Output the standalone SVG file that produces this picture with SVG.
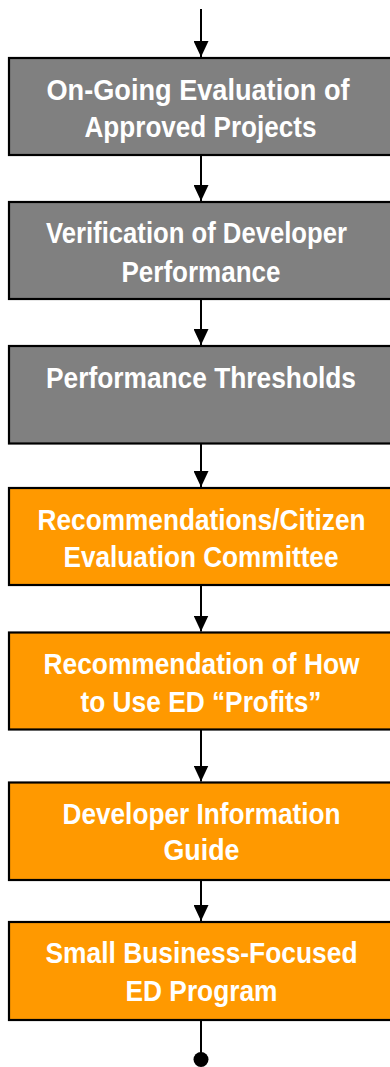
<svg xmlns="http://www.w3.org/2000/svg" width="390" height="1067" viewBox="0 0 390 1067">
<defs>
<style>
.box{stroke:#000;stroke-width:2.2}
.gray{fill:#808080}
.orange{fill:#FF9900}
.t{font-family:"Liberation Sans",Arial,sans-serif;font-weight:bold;font-size:29px;fill:#fff;text-anchor:middle}
.conn{stroke:#000;stroke-width:2;fill:none}
</style>
<marker id="ah" viewBox="0 0 16 15" refX="16" refY="7.5" markerWidth="16" markerHeight="15" markerUnits="userSpaceOnUse" orient="auto">
<path d="M0,0 L16,7.5 L0,15 Z" fill="#000"/>
</marker>
</defs>
<rect width="390" height="1067" fill="#fff"/>
<g id="connectors">
<line class="conn" x1="201" y1="9" x2="201" y2="57" marker-end="url(#ah)"/>
<line class="conn" x1="201" y1="155" x2="201" y2="201" marker-end="url(#ah)"/>
<line class="conn" x1="201" y1="299" x2="201" y2="345" marker-end="url(#ah)"/>
<line class="conn" x1="201" y1="443.5" x2="201" y2="487" marker-end="url(#ah)"/>
<line class="conn" x1="201" y1="585" x2="201" y2="631.5" marker-end="url(#ah)"/>
<line class="conn" x1="201" y1="729.5" x2="201" y2="781.5" marker-end="url(#ah)"/>
<line class="conn" x1="201" y1="880" x2="201" y2="921" marker-end="url(#ah)"/>
<line class="conn" x1="201" y1="1020" x2="201" y2="1055"/>
<circle cx="201" cy="1059.5" r="7.5" fill="#000"/>
</g>
<g id="n1">
<rect class="box gray" x="9" y="58" width="390" height="97"/>
<text class="t" x="198" y="100" textLength="303" lengthAdjust="spacingAndGlyphs">On-Going Evaluation of</text>
<text class="t" x="200.5" y="136.7" textLength="232" lengthAdjust="spacingAndGlyphs">Approved Projects</text>
</g>
<g id="n2">
<rect class="box gray" x="9" y="202" width="390" height="97"/>
<text class="t" x="196.5" y="243.3" textLength="301" lengthAdjust="spacingAndGlyphs">Verification of Developer</text>
<text class="t" x="201" y="282.3" textLength="159" lengthAdjust="spacingAndGlyphs">Performance</text>
</g>
<g id="n3">
<rect class="box gray" x="9" y="346" width="390" height="97.5"/>
<text class="t" x="201" y="387.5" textLength="310" lengthAdjust="spacingAndGlyphs">Performance Thresholds</text>
</g>
<g id="n4">
<rect class="box orange" x="9" y="488" width="390" height="97"/>
<text class="t" x="201.5" y="530" textLength="328" lengthAdjust="spacingAndGlyphs">Recommendations/Citizen</text>
<text class="t" x="201" y="566.7" textLength="275" lengthAdjust="spacingAndGlyphs">Evaluation Committee</text>
</g>
<g id="n5">
<rect class="box orange" x="9" y="632.5" width="390" height="97"/>
<text class="t" x="201.5" y="674" textLength="316" lengthAdjust="spacingAndGlyphs">Recommendation of How</text>
<text class="t" x="201" y="711.7" textLength="241" lengthAdjust="spacingAndGlyphs">to Use ED “Profits”</text>
</g>
<g id="n6">
<rect class="box orange" x="9" y="782.5" width="390" height="97.5"/>
<text class="t" x="201.5" y="824" textLength="278" lengthAdjust="spacingAndGlyphs">Developer Information</text>
<text class="t" x="201.5" y="860" textLength="76" lengthAdjust="spacingAndGlyphs">Guide</text>
</g>
<g id="n7">
<rect class="box orange" x="9" y="922" width="390" height="98"/>
<text class="t" x="201.5" y="962.7" textLength="312" lengthAdjust="spacingAndGlyphs">Small Business-Focused</text>
<text class="t" x="201.5" y="1001" textLength="152" lengthAdjust="spacingAndGlyphs">ED Program</text>
</g>
</svg>
